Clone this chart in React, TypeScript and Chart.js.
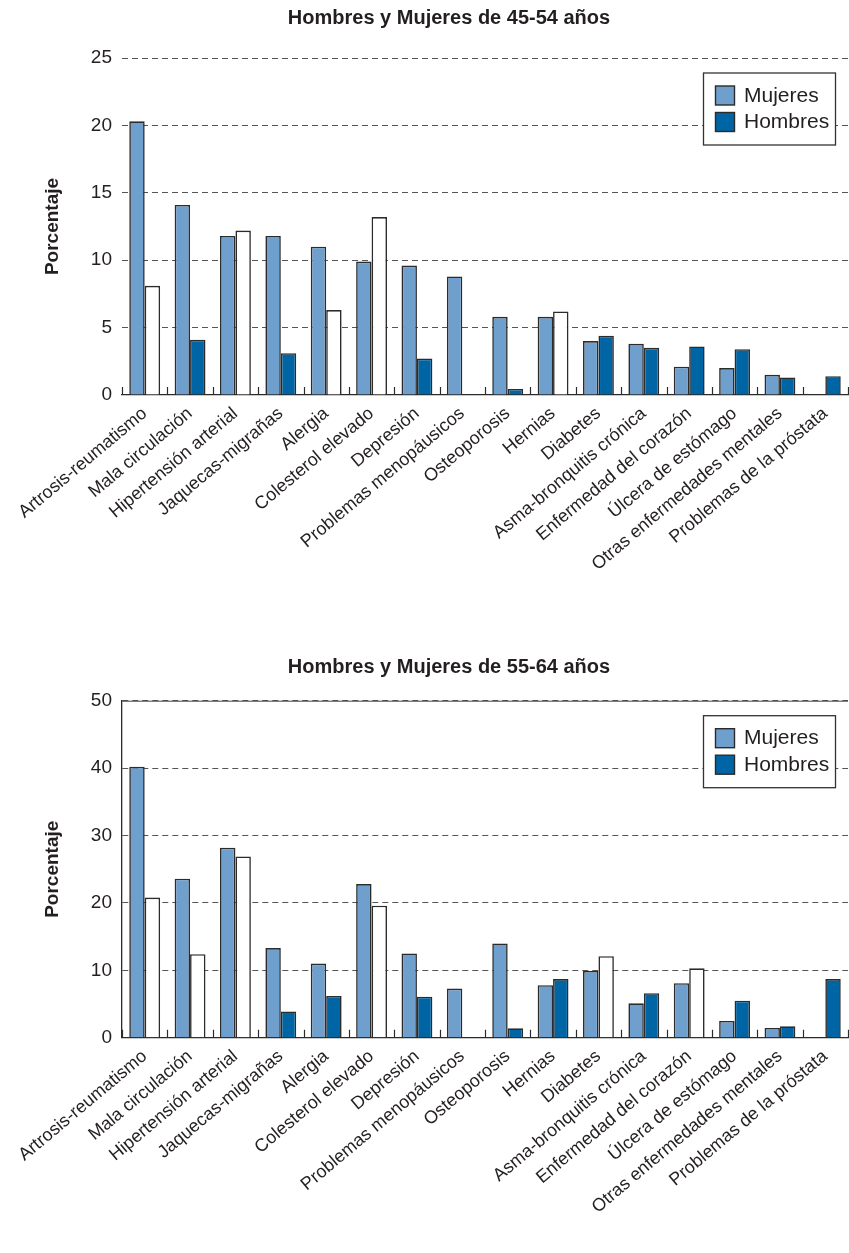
import React, { useEffect, useRef } from 'react';
import { Chart, registerables } from 'chart.js';

Chart.register(...registerables);

const categorias = [
  'Artrosis-reumatismo',
  'Mala circulación',
  'Hipertensión arterial',
  'Jaquecas-migrañas',
  'Alergia',
  'Colesterol elevado',
  'Depresión',
  'Problemas menopáusicos',
  'Osteoporosis',
  'Hernias',
  'Diabetes',
  'Asma-bronquitis crónica',
  'Enfermedad del corazón',
  'Úlcera de estómago',
  'Otras enfermedades mentales',
  'Problemas de la próstata',
];

const mujeres4554 = [20.3, 14.1, 11.8, 11.8, 11.0, 9.9, 9.6, 8.8, 5.8, 5.8, 4.0, 3.8, 2.1, 2.0, 1.5, 0];
const hombres4554 = [8.1, 4.1, 12.2, 3.1, 6.3, 13.2, 2.7, 0, 0.45, 6.2, 4.4, 3.5, 3.6, 3.4, 1.3, 1.4];
const hombres4554Blanco = [true, false, true, false, true, true, false, false, false, true, false, false, false, false, false, false];

const mujeres5564 = [40.2, 23.6, 28.2, 13.3, 11.0, 22.8, 12.5, 7.3, 14.0, 7.8, 9.9, 5.1, 8.1, 2.5, 1.45, 0];
const hombres5564 = [20.8, 12.4, 26.9, 3.9, 6.2, 19.6, 6.1, 0, 1.4, 8.7, 12.1, 6.6, 10.3, 5.5, 1.7, 8.7];
const hombres5564Blanco = [true, true, true, false, false, true, false, false, false, false, true, false, true, false, false, false];

const escala4554 = { max: 25, paso: 5 };
const escala5564 = { max: 50, paso: 10 };

const titulo4554 = 'Hombres y Mujeres de 45-54 años';
const titulo5564 = 'Hombres y Mujeres de 55-64 años';
const ejeY = 'Porcentaje';
const leyenda = ['Mujeres', 'Hombres'];

const FONT = '"Liberation Sans", Arial, Helvetica, sans-serif';
const C_MUJ = '#6f9fcd';
const C_HOM = '#0065a4';
const C_BORDE = '#2b2b2b';
const C_TEXTO = '#231f20';

type PanelProps = {
  title: string;
  women: number[];
  men: number[];
  menWhite: boolean[];
  max: number;
  step: number;
  yLine: boolean;
  width: number;
  height: number;
  areaTop: number;
  areaBottom: number;
  titleY: number;
  top: number;
};

function Panel(p: PanelProps) {
  const ref = useRef<HTMLCanvasElement>(null);
  useEffect(() => {
    const canvas = ref.current;
    if (!canvas) return;
    const decor = {
      id: 'decor',
      afterDraw(chart: any) {
        const ctx = chart.ctx;
        const area = chart.chartArea;
        const xs = chart.scales.x;
        ctx.save();
        // title
        ctx.fillStyle = C_TEXTO;
        ctx.font = `bold 20px ${FONT}`;
        ctx.textAlign = 'center';
        ctx.textBaseline = 'middle';
        ctx.fillText(p.title, 449, p.titleY);
        // y label
        ctx.save();
        ctx.translate(53, (area.top + area.bottom) / 2);
        ctx.rotate(-Math.PI / 2);
        ctx.font = `bold 19px ${FONT}`;
        ctx.fillText(ejeY, 0, 0);
        ctx.restore();
        // top solid line (bottom panel)
        ctx.strokeStyle = '#444';
        ctx.lineWidth = 1;
        if (p.yLine) {
          ctx.beginPath();
          ctx.moveTo(area.left, area.top + 0.5);
          ctx.lineTo(area.right, area.top + 0.5);
          ctx.stroke();
        }
        // upward tick marks at category boundaries
        ctx.strokeStyle = C_BORDE;
        ctx.lineWidth = 1.2;
        const n = categorias.length;
        const half = (xs.getPixelForTick(1) - xs.getPixelForTick(0)) / 2;
        for (let i = 0; i <= n; i++) {
          const x = Math.round((i < n ? xs.getPixelForTick(i) - half : xs.getPixelForTick(n - 1) + half)) + 0.5;
          ctx.beginPath();
          ctx.moveTo(x, area.bottom);
          ctx.lineTo(x, area.bottom - 8);
          ctx.stroke();
        }
        // legend
        const lx = 703, ly = area.top + 14.5, lw = 132, lh = 72;
        ctx.fillStyle = '#ffffff';
        ctx.fillRect(lx, ly, lw, lh);
        ctx.strokeStyle = '#333';
        ctx.lineWidth = 1.3;
        ctx.strokeRect(lx + 0.5, ly + 0.5, lw, lh);
        const cols = [C_MUJ, C_HOM];
        ctx.font = `21px ${FONT}`;
        ctx.textAlign = 'left';
        ctx.textBaseline = 'middle';
        for (let i = 0; i < 2; i++) {
          const sy = ly + 13.5 + i * 26.5;
          ctx.fillStyle = cols[i];
          ctx.fillRect(lx + 12.5, sy, 19, 19);
          ctx.strokeStyle = '#2b2b2b';
          ctx.lineWidth = 1.4;
          ctx.strokeRect(lx + 12.5, sy, 19, 19);
          ctx.fillStyle = C_TEXTO;
          ctx.fillText(leyenda[i], lx + 41, sy + 10);
        }
        ctx.restore();
      },
    };
    const chart = new Chart(canvas, {
      type: 'bar',
      data: {
        labels: categorias,
        datasets: [
          {
            label: leyenda[0],
            data: p.women,
            backgroundColor: C_MUJ,
            borderColor: C_BORDE,
            borderWidth: 1.6,
          },
          {
            label: leyenda[1],
            data: p.men,
            backgroundColor: p.men.map((_, i) => (p.menWhite[i] ? '#ffffff' : C_HOM)),
            borderColor: C_BORDE,
            borderWidth: 1.6,
          },
        ],
      },
      options: {
        animation: false,
        responsive: false,
        maintainAspectRatio: false,
        layout: { padding: { top: p.areaTop, right: 1, left: 0, bottom: 0 } },
        plugins: {
          legend: { display: false },
          title: { display: false },
          tooltip: { enabled: false },
        },
        datasets: { bar: { categoryPercentage: 0.68, barPercentage: 1 } },
        scales: {
          x: {
            grid: { display: true, drawOnChartArea: false, drawTicks: false },
            border: { display: true, color: C_BORDE, width: 1.3 },
            ticks: {
              autoSkip: false,
              minRotation: 40,
              maxRotation: 40,
              padding: 8,
              color: C_TEXTO,
              font: { family: FONT, size: 18 },
            },
            afterFit(s: any) {
              s.height = p.height - p.areaBottom;
            },
          },
          y: {
            min: 0,
            max: p.max,
            ticks: {
              stepSize: p.step,
              padding: 10,
              color: C_TEXTO,
              font: { family: FONT, size: 19 },
            },
            grid: {
              drawTicks: false,
              color: (c: any) => (c.tick && c.tick.value === 0 ? 'rgba(0,0,0,0)' : '#555555'),
              lineWidth: 1,
            },
            border: { display: p.yLine, color: C_BORDE, width: 1.3, dash: [6, 4] },
            afterFit(s: any) {
              s.width = 122;
            },
          },
        },
      },
      plugins: [decor],
    });
    return () => chart.destroy();
  }, []);
  return (
    <canvas
      ref={ref}
      width={p.width}
      height={p.height}
      style={{ position: 'absolute', left: 0, top: p.top, width: p.width, height: p.height, display: 'block' }}
    />
  );
}

export default function App() {
  return (
    <div style={{ position: 'absolute', left: 0, top: 0, width: 849, height: 1253, background: '#fff' }}>
      <Panel
        title={titulo4554}
        women={mujeres4554}
        men={hombres4554}
        menWhite={hombres4554Blanco}
        max={escala4554.max}
        step={escala4554.paso}
        yLine={false}
        width={849}
        height={630}
        areaTop={58}
        areaBottom={395}
        titleY={18}
        top={0}
      />
      <Panel
        title={titulo5564}
        women={mujeres5564}
        men={hombres5564}
        menWhite={hombres5564Blanco}
        max={escala5564.max}
        step={escala5564.paso}
        yLine={true}
        width={849}
        height={623}
        areaTop={70.7}
        areaBottom={407.75}
        titleY={37}
        top={630}
      />
    </div>
  );
}
